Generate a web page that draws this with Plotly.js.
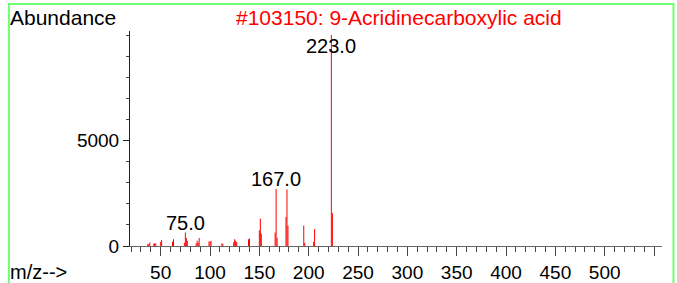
<!DOCTYPE html>
<html>
<head>
<meta charset="utf-8">
<script src="https://cdn.plot.ly/plotly-3.0.1.min.js"></script>
<style>html,body{margin:0;padding:0;background:#fff;}#chart{width:677px;height:283px;}</style>
</head>
<body>
<div id="chart"></div>
<script>
// m/z values and abundances
const mzValues = [37, 38, 39, 43, 44, 45, 50, 51, 62, 63, 74, 75, 76, 77, 86, 87, 88, 89, 99, 100, 101, 112, 113, 124, 125, 126, 127, 139, 140, 150, 151, 152, 166, 167, 168, 177, 178, 179, 195, 196, 205, 206, 223, 224];
const abundances = [100, 90, 170, 110, 130, 120, 200, 290, 200, 320, 150, 640, 380, 250, 130, 250, 150, 380, 220, 200, 250, 120, 110, 180, 320, 250, 180, 320, 350, 740, 1300, 580, 640, 2700, 380, 1380, 2680, 960, 970, 150, 200, 800, 9999, 1560];
const labelledPeaks = [75, 167, 223];
const xTickValues = [50, 100, 150, 200, 250, 300, 350, 400, 450, 500, 550];
const xTickText = ['50', '100', '150', '200', '250', '300', '350', '400', '450', '500', ''];
const yTickValues = [0, 5000];
const yTickText = ['0', '5000'];
const titleText = '#103150: 9-Acridinecarboxylic acid';

const segX = [], segY = [];
mzValues.forEach((m, i) => { segX.push(m, m, null); segY.push(0, abundances[i], null); });

const FONT = 'Liberation Sans, Arial, sans-serif';
const annotations = labelledPeaks.map(m => {
  const a = abundances[mzValues.indexOf(m)];
  return {x: m, y: Math.min(a, 9000), xref: 'x', yref: 'y', text: m.toFixed(1), showarrow: false,
    yanchor: 'bottom', xanchor: 'center', yshift: -3, font: {family: FONT, size: 20, color: '#000'}};
});
annotations.push({text: 'Abundance', xref: 'paper', yref: 'paper', x: -0.229, y: 1.127, xanchor: 'left', yanchor: 'top', showarrow: false, font: {family: FONT, size: 21, color: '#000'}});
annotations.push({text: 'm/z-->', xref: 'paper', yref: 'paper', x: -0.229, y: -0.18, xanchor: 'left', yanchor: 'bottom', showarrow: false, font: {family: FONT, size: 20, color: '#000'}});
annotations.push({text: titleText, xref: 'paper', yref: 'paper', x: 0.505, y: 1.127, xanchor: 'center', yanchor: 'top', showarrow: false, font: {family: FONT, size: 21, color: '#ff0000'}});

const layout = {
  width: 677, height: 283,
  margin: {l: 130, r: 15, t: 31, b: 37, pad: 0},
  paper_bgcolor: '#fff', plot_bgcolor: '#fff',
  showlegend: false,
  xaxis: {range: [18.9, 558.1], tickmode: 'array', tickvals: xTickValues, ticktext: xTickText,
    ticks: 'outside', ticklen: 9, tickwidth: 1, tickcolor: '#444', showgrid: false, zeroline: false,
    showline: true, linecolor: '#666', linewidth: 1,
    minor: {tickmode: 'linear', tick0: 0, dtick: 10, ticks: 'outside', ticklen: 5, tickcolor: '#444', showgrid: false},
    tickfont: {family: FONT, size: 19, color: '#000'}, fixedrange: true},
  yaxis: {range: [0, 10190], tickmode: 'array', tickvals: yTickValues, ticktext: yTickText,
    ticks: 'outside', ticklen: 6, tickwidth: 1, tickcolor: '#222', showgrid: false, zeroline: false,
    showline: true, linecolor: '#222', linewidth: 1,
    minor: {tickmode: 'linear', tick0: 0, dtick: 1000, ticks: 'outside', ticklen: 3, tickcolor: '#444', showgrid: false},
    tickfont: {family: FONT, size: 19, color: '#000'}, fixedrange: true},
  annotations: annotations,
  shapes: [{type: 'rect', xref: 'paper', yref: 'paper', x0: -0.2276, x1: 1.0216, y0: -0.3, y1: 1.1256,
    line: {color: '#70ff70', width: 2}, fillcolor: 'rgba(0,0,0,0)', layer: 'above'}]
};

Plotly.newPlot('chart', [{type: 'scatter', mode: 'lines', x: segX, y: segY, line: {color: '#ff0000', width: 1}, hoverinfo: 'skip'}], layout, {displayModeBar: false, staticPlot: true});
</script>
</body>
</html>
